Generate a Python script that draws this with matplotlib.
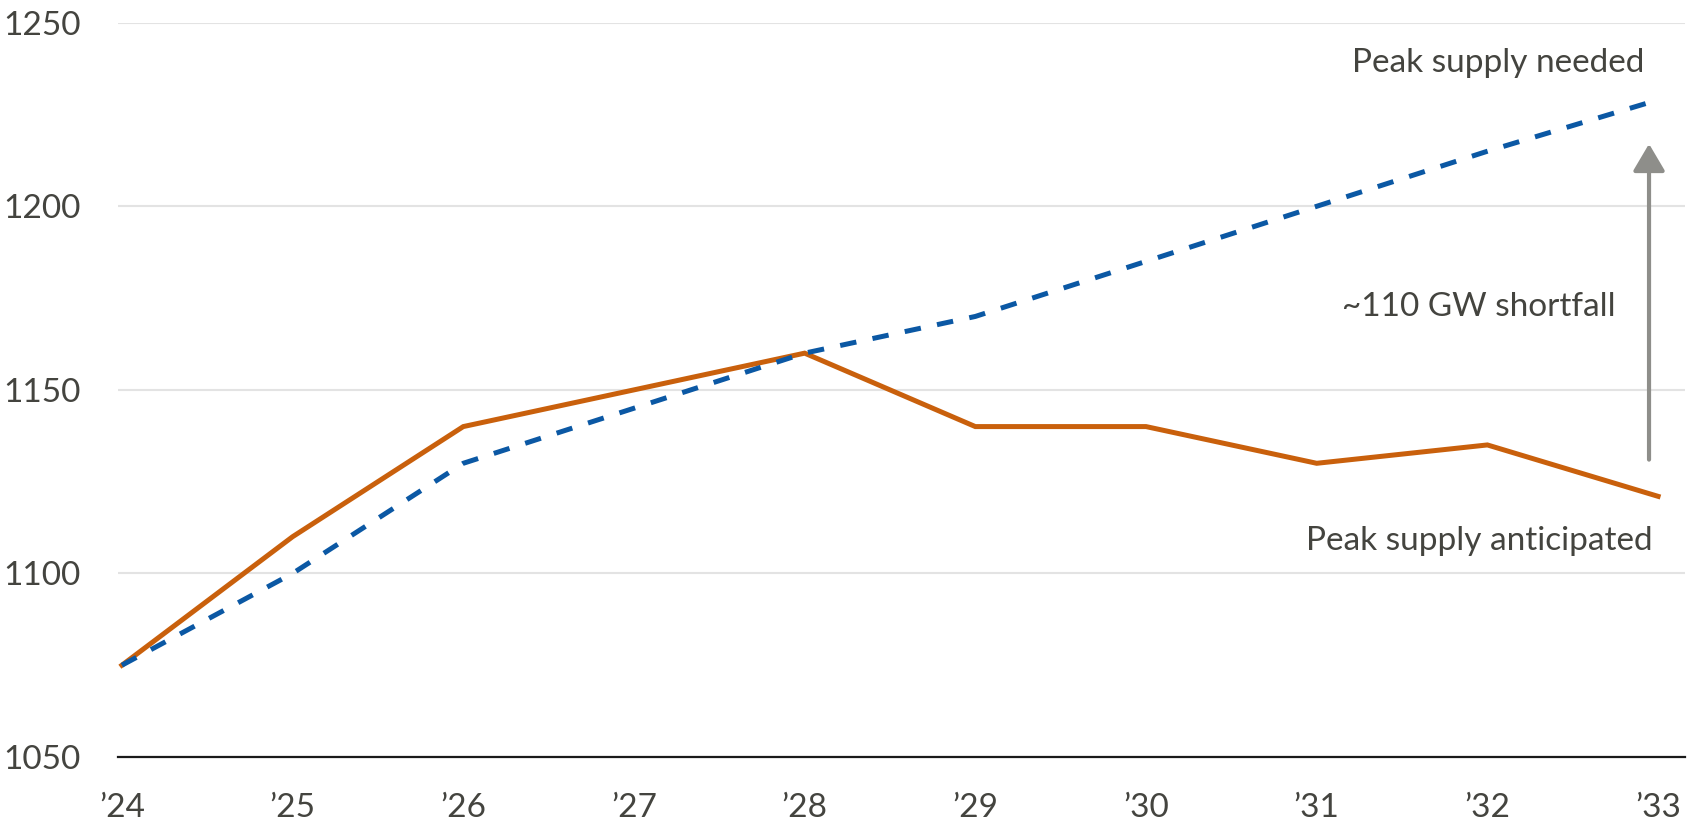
import matplotlib
matplotlib.use("Agg")
import matplotlib.pyplot as plt

plt.rcParams['font.family'] = ['Lato', 'DejaVu Sans']

# data (GW)
years = ['\u201924', '\u201925', '\u201926', '\u201927', '\u201928',
         '\u201929', '\u201930', '\u201931', '\u201932', '\u201933']
supply_anticipated = [1075, 1110, 1140, 1150, 1160, 1140, 1140, 1130, 1135, 1121]
supply_needed = [1075, 1100, 1130, 1145, 1160, 1170, 1185, 1200, 1215, 1229]
y_ticks = [1050, 1100, 1150, 1200, 1250]

text_col = '#44443f'
orange = '#c9600c'
blue = '#0b58a4'
grey = '#8e8e8a'

fig = plt.figure(figsize=(17, 8.36), dpi=100)
ax = fig.add_axes([0.0694, 0.0945, 0.9218, 0.8783])

x = list(range(len(years)))

ax.plot(x, supply_anticipated, color=orange, lw=3.6, solid_joinstyle='miter', zorder=3)
ax.plot(x, supply_needed, color=blue, lw=3.6, dashes=(3.3, 3.3), dash_capstyle='butt', zorder=4)

# shortfall arrow at the last year
x_arrow = 8.947
ax.annotate('', xy=(x_arrow, 1217), xytext=(x_arrow, 1131),
            arrowprops=dict(arrowstyle='-|>,head_length=0.83,head_width=0.49',
                            mutation_scale=20, color=grey, lw=3, shrinkA=0, shrinkB=0))

ax.text(8.92, 1236.5, 'Peak supply needed', fontsize=24, color=text_col,
        ha='right', va='baseline')
ax.text(8.754, 1170, '~110 GW shortfall', fontsize=24, color=text_col,
        ha='right', va='baseline')
ax.text(8.97, 1106.3, 'Peak supply anticipated', fontsize=24, color=text_col,
        ha='right', va='baseline')

ax.set_xlim(-0.023, 9.158)
ax.set_ylim(1050, 1250)
ax.set_xticks(x)
ax.set_xticklabels(years)
ax.set_yticks(y_ticks)
ax.tick_params(axis='both', length=0, labelsize=24, labelcolor=text_col)
ax.tick_params(axis='y', pad=27)
ax.tick_params(axis='x', pad=26)

ax.grid(axis='y', color='#e3e3e3', lw=1.5)
ax.set_axisbelow(True)
for s in ['top', 'right', 'left']:
    ax.spines[s].set_visible(False)
ax.spines['bottom'].set_color('#1a1a1a')
ax.spines['bottom'].set_linewidth(1.6)
ax.spines['bottom'].set_zorder(5)

fig.savefig('out.png', dpi=100)
